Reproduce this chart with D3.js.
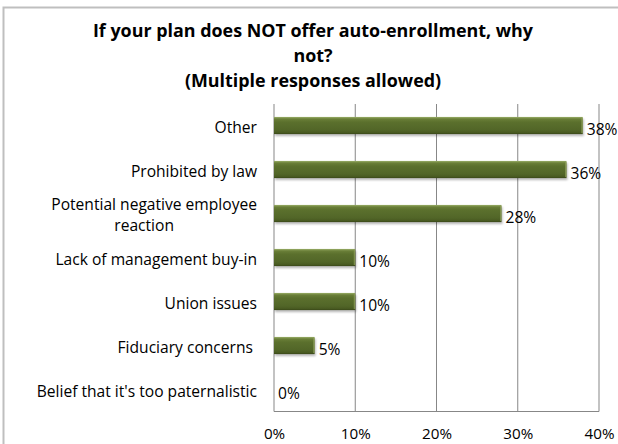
<!DOCTYPE html>
<html>
<head>
<meta charset="utf-8">
<script src="https://cdn.jsdelivr.net/npm/d3@7/dist/d3.min.js"></script>
<style>
  html, body { margin: 0; padding: 0; background: #fff; }
  svg { display: block; font-family: "Open Sans", Lato, sans-serif; }
</style>
</head>
<body>
<svg id="chart" width="618" height="444"></svg>
<script>
// Survey responses: reasons for not offering auto-enrollment
const categories = [
  "Other",
  "Prohibited by law",
  "Potential negative employee reaction",
  "Lack of management buy-in",
  "Union issues",
  "Fiduciary concerns ",
  "Belief that it's too paternalistic"
];
const values = [38, 36, 28, 10, 10, 5, 0];
const xTicks = [0, 10, 20, 30, 40];
const titleLines = [
  "If your plan does NOT offer auto-enrollment, why",
  "not?",
  "(Multiple responses allowed)"
];

const svg = d3.select("#chart");
const W = 618, H = 444;
const plot = { left: 274, right: 599, top: 104, bottom: 411.5 };
const labelSize = 15.6;

// Outer frame of the chart area (runs off the right and bottom edges)
svg.append("path")
  .attr("d", `M3.5,${H + 5} V7.5 H${W + 5}`)
  .attr("fill", "none")
  .attr("stroke", "#bfbfbf")
  .attr("stroke-width", 2);

// Title
svg.append("g").selectAll("text")
  .data(titleLines)
  .join("text")
  .attr("x", 313)
  .attr("y", (d, i) => 37 + i * 25)
  .attr("text-anchor", "middle")
  .attr("font-size", 17.9)
  .attr("font-weight", 700)
  .attr("fill", "#000")
  .text(d => d);

const x = d3.scaleLinear().domain([0, 40]).range([plot.left, plot.right]);
const y = d3.scaleBand()
  .domain(categories)
  .range([103.5, 411.5])
  .paddingInner(0.61)
  .paddingOuter(0.305);

// Vertical gridlines
svg.append("g").selectAll("line")
  .data(xTicks.filter(t => t > 0))
  .join("line")
  .attr("x1", d => x(d)).attr("x2", d => x(d))
  .attr("y1", plot.top).attr("y2", plot.bottom)
  .attr("stroke", "#878787").attr("stroke-width", 1);

// Axis lines
svg.append("path")
  .attr("d", `M${plot.left},${plot.top} V${plot.bottom} H${plot.right}`)
  .attr("fill", "none")
  .attr("stroke", "#878787")
  .attr("stroke-width", 1);

// Bottom tick labels
const xAxis = d3.axisBottom(x)
  .tickValues(xTicks)
  .tickFormat(d => d + "%")
  .tickSize(0)
  .tickPadding(0);
const gx = svg.append("g")
  .attr("transform", `translate(0,${plot.bottom})`)
  .call(xAxis);
gx.select(".domain").remove();
gx.selectAll("text")
  .attr("font-family", "'Open Sans', sans-serif")
  .attr("font-size", 15.2)
  .attr("fill", "#000")
  .attr("dy", null)
  .attr("y", 27.5);

// Bevelled bar fill
const defs = svg.append("defs");
const grad = defs.append("linearGradient")
  .attr("id", "barFill").attr("x1", 0).attr("y1", 0).attr("x2", 0).attr("y2", 1);
[[0, "#9aae68"], [0.12, "#6a7f38"], [0.3, "#5b702d"], [0.75, "#526628"], [0.9, "#4a5c22"], [1, "#3a4819"]]
  .forEach(([o, c]) => grad.append("stop").attr("offset", o).attr("stop-color", c));
const shadow = defs.append("filter").attr("id", "barShadow")
  .attr("x", "-5%").attr("y", "-30%").attr("width", "120%").attr("height", "180%");
shadow.append("feGaussianBlur").attr("stdDeviation", 1.2);

const rows = values.map((v, i) => ({ v, c: categories[i] }));
const drawn = rows.filter(d => d.v > 0);

const bars = svg.append("g");
// soft shadow under each bar
bars.selectAll("rect.shadow")
  .data(drawn)
  .join("rect")
  .attr("class", "shadow")
  .attr("x", x(0) + 1)
  .attr("y", d => y(d.c) + 2)
  .attr("width", d => x(d.v) - x(0))
  .attr("height", y.bandwidth())
  .attr("fill", "#000")
  .attr("opacity", 0.28)
  .attr("filter", "url(#barShadow)");
bars.selectAll("rect.bar")
  .data(drawn)
  .join("rect")
  .attr("class", "bar")
  .attr("x", x(0))
  .attr("y", d => y(d.c))
  .attr("width", d => x(d.v) - x(0))
  .attr("height", y.bandwidth())
  .attr("fill", "url(#barFill)");
// light edge at the end of each bar
bars.selectAll("rect.edge")
  .data(drawn)
  .join("rect")
  .attr("class", "edge")
  .attr("x", d => x(d.v) - 1.5)
  .attr("y", d => y(d.c) + 1)
  .attr("width", 1.5)
  .attr("height", y.bandwidth() - 2)
  .attr("fill", "#8ea05a")
  .attr("opacity", 0.7);

// Value labels
svg.append("g").selectAll("text")
  .data(rows)
  .join("text")
  .attr("x", d => x(d.v) + 4)
  .attr("y", d => y(d.c) + y.bandwidth() / 2 + 9)
  .attr("font-size", labelSize)
  .attr("fill", "#000")
  .text(d => d.v + "%");

// Category labels (the long one wraps onto two centred lines)
const labelRight = 257;
const catG = svg.append("g");
categories.forEach(c => {
  const cy = y(c) + y.bandwidth() / 2;
  if (c === "Potential negative employee reaction") {
    const l1 = catG.append("text")
      .attr("x", labelRight).attr("y", cy - 4)
      .attr("text-anchor", "end").attr("font-size", labelSize)
      .text("Potential negative employee");
    const w = l1.node().getComputedTextLength();
    catG.append("text")
      .attr("x", labelRight - w / 2 - 10).attr("y", cy + 17)
      .attr("text-anchor", "middle").attr("font-size", labelSize)
      .text("reaction");
  } else {
    catG.append("text")
      .attr("x", labelRight).attr("y", cy + 7)
      .attr("text-anchor", "end").attr("font-size", labelSize)
      .style("white-space", "pre")
      .text(c);
  }
});
</script>
</body>
</html>
